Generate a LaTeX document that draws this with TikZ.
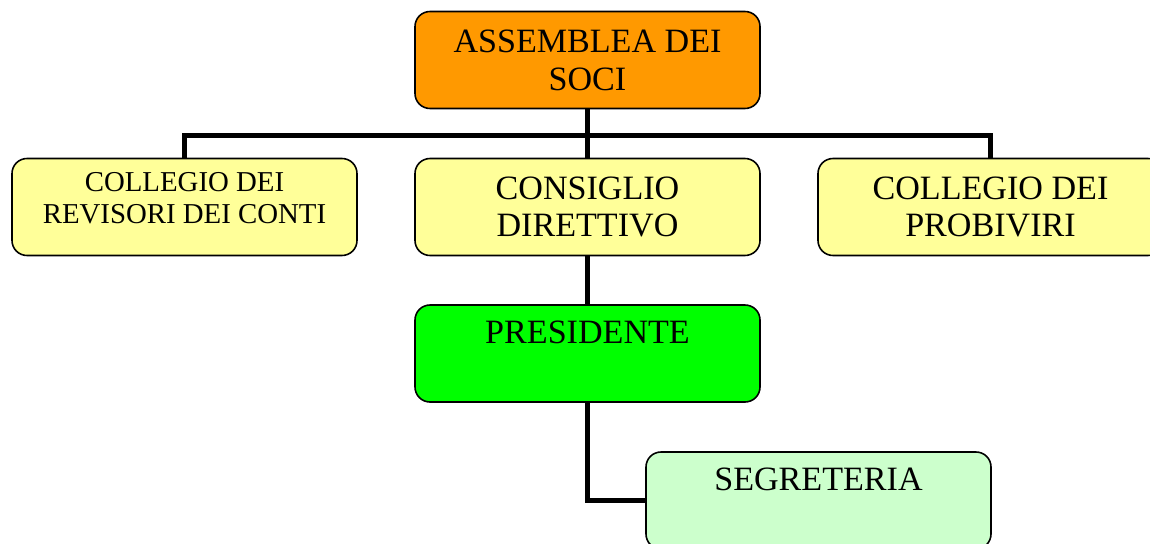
\documentclass[tikz,border=0pt]{standalone}
\usepackage{fontspec}
\setmainfont{Liberation Serif}
\usepackage{tikz}
\usetikzlibrary{positioning,calc}
\definecolor{soci}{HTML}{FF9900}
\definecolor{organo}{HTML}{FFFF99}
\definecolor{pres}{HTML}{00FF00}
\definecolor{segr}{HTML}{CCFFCC}
\tikzstyle{box} = [draw=black,line width=0.9pt,rounded corners=0.3cm,minimum width=6.9cm,minimum height=1.94cm,inner sep=0pt,align=center,font=\fontsize{19.4}{21.5}\selectfont]
\tikzstyle{topbox} = [box,text height=0.76cm,text depth=1.18cm]
\tikzstyle{link} = [line width=2.8pt]

\begin{document}
\begin{tikzpicture}
    \useasboundingbox (0,0) rectangle (23,-10.88);
    \clip (0,0) rectangle (23,-10.88);

    \node [box,fill=soci] (assemblea) at (11.75,-1.2) {ASSEMBLEA DEI\\SOCI};
    \node [box,fill=organo,font=\fontsize{16.4}{18.1}\selectfont] (revisori) at (3.69,-4.14) {COLLEGIO DEI\\REVISORI DEI CONTI\\[-8pt]};
    \node [box,fill=organo] (consiglio) at (11.75,-4.14) {CONSIGLIO\\DIRETTIVO};
    \node [box,fill=organo] (probiviri) at (19.81,-4.14) {COLLEGIO DEI\\PROBIVIRI};
    \node [topbox,fill=pres] (presidente) at (11.75,-7.07) {PRESIDENTE};
    \node [topbox,fill=segr] (segreteria) at (16.37,-10.01) {SEGRETERIA};

    \draw [link] (assemblea.south) -- (consiglio.north);
    \draw [link] (revisori.north) -- ++(0,0.44) -| (probiviri.north);
    \draw [link] (consiglio.south) -- (presidente.north);
    \draw [link] (presidente.south) |- (segreteria.west);
  \end{tikzpicture}
\end{document}
